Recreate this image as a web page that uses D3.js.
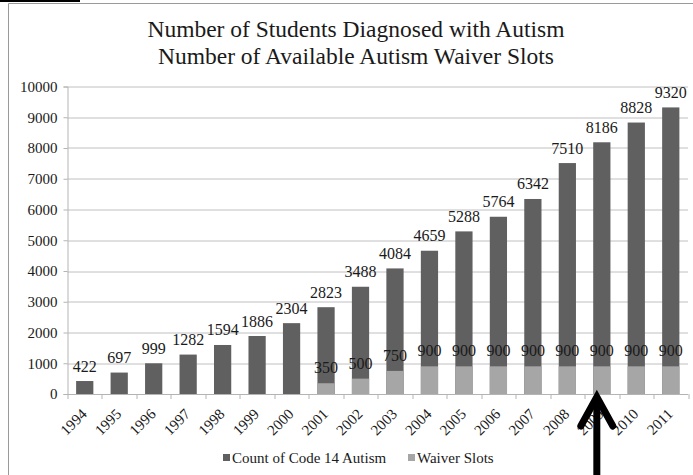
<!DOCTYPE html>
<html>
<head>
<meta charset="utf-8">
<script src="https://cdn.jsdelivr.net/npm/d3@7"></script>
<style>
  body { margin: 0; background: #fff; }
  svg text { font-family: "Liberation Serif", "Times New Roman", serif !important; fill: #1a1a1a; }
</style>
</head>
<body>
<div id="chart"></div>
<script>
// Data
let years = ["1994", "1995", "1996", "1997", "1998", "1999", "2000", "2001", "2002",
  "2003", "2004", "2005", "2006", "2007", "2008", "2009", "2010", "2011"];
let autismCount = [422, 697, 999, 1282, 1594, 1886, 2304, 2823, 3488,
  4084, 4659, 5288, 5764, 6342, 7510, 8186, 8828, 9320];
// null = no waiver slots that year
let waiverSlots = [null, null, null, null, null, null, null, 350, 500,
  750, 900, 900, 900, 900, 900, 900, 900, 900];
let yTicks = [0, 1000, 2000, 3000, 4000, 5000, 6000, 7000, 8000, 9000, 10000];
let titleLines = ["Number of Students Diagnosed with Autism", "Number of Available Autism Waiver Slots"];
let legendNames = ["Count of Code 14 Autism", "Waiver Slots"];

let svgWidth = 693;
let svgHeight = 475;

// plot area in page coordinates
let margin = { top: 86.5, right: 5, bottom: 81, left: 67.5 };
let width = svgWidth - margin.left - margin.right;
let height = svgHeight - margin.top - margin.bottom;

let darkColor = "#606060";
let lightColor = "#a6a6a6";

let svg = d3.select("#chart")
  .append("svg")
  .attr("width", svgWidth)
  .attr("height", svgHeight);

// frame bits of the scanned page
svg.append("rect")
  .attr("x", 0).attr("y", 0)
  .attr("width", 80).attr("height", 2)
  .attr("fill", "#000");
svg.append("path")
  .attr("d", `M8.5,${svgHeight} V3.5 H${svgWidth}`)
  .attr("fill", "none")
  .attr("stroke", "#9a9a9a")
  .attr("stroke-width", 1);

// title
svg.append("g").selectAll("text")
  .data(titleLines)
  .enter()
  .append("text")
  .attr("x", 356)
  .attr("y", (d, i) => 37 + i * 26.5)
  .attr("text-anchor", "middle")
  .attr("font-size", 23.5)
  .text(d => d);

let chartGroup = svg.append("g")
  .attr("transform", `translate(${margin.left}, ${margin.top})`);

let xScale = d3.scaleBand()
  .domain(years)
  .range([0, width])
  .paddingInner(0.5)
  .paddingOuter(0.25);

let yScale = d3.scaleLinear()
  .domain([0, 10000])
  .range([height, 0]);

// gridlines
chartGroup.append("g")
  .selectAll("line")
  .data(yTicks.slice(1))
  .enter()
  .append("line")
  .attr("x1", 0)
  .attr("x2", width)
  .attr("y1", d => Math.round(yScale(d)) + 0.5)
  .attr("y2", d => Math.round(yScale(d)) + 0.5)
  .attr("stroke", "#c0c0c0");

// y axis
let leftAxis = d3.axisLeft(yScale)
  .tickValues(yTicks)
  .tickSize(4)
  .tickPadding(6)
  .tickFormat(d3.format("d"));

let yAxis = chartGroup.append("g")
  .call(leftAxis)
  .attr("font-family", null);
yAxis.select(".domain").attr("stroke", "#b4b4b4");
yAxis.selectAll(".tick line").attr("stroke", "#b4b4b4");
yAxis.selectAll(".tick text")
  .attr("font-size", 15)
  .attr("fill", "#1a1a1a");

// count bars (full height), waiver bars drawn over the bottom part
chartGroup.append("g")
  .selectAll("rect")
  .data(years)
  .enter()
  .append("rect")
  .attr("x", d => xScale(d))
  .attr("width", xScale.bandwidth())
  .attr("y", (d, i) => yScale(autismCount[i]))
  .attr("height", (d, i) => height - yScale(autismCount[i]))
  .attr("fill", darkColor);

let waiverYears = years.filter((d, i) => waiverSlots[i] !== null);

chartGroup.append("g")
  .selectAll("rect")
  .data(waiverYears)
  .enter()
  .append("rect")
  .attr("x", d => xScale(d))
  .attr("width", xScale.bandwidth())
  .attr("y", d => yScale(waiverSlots[years.indexOf(d)]))
  .attr("height", d => height - yScale(waiverSlots[years.indexOf(d)]))
  .attr("fill", lightColor);

// x axis with ticks between the categories
let xAxisG = chartGroup.append("g")
  .attr("transform", `translate(0, ${height})`);
xAxisG.append("line")
  .attr("x1", 0).attr("x2", width)
  .attr("y1", 0.5).attr("y2", 0.5)
  .attr("stroke", "#b4b4b4");
let step = xScale.step();
xAxisG.selectAll("line.tk")
  .data(d3.range(years.length + 1))
  .enter()
  .append("line")
  .attr("class", "tk")
  .attr("x1", i => Math.round(i * step) + 0.5)
  .attr("x2", i => Math.round(i * step) + 0.5)
  .attr("y1", 0)
  .attr("y2", 5)
  .attr("stroke", "#b4b4b4");

xAxisG.selectAll("text")
  .data(years)
  .enter()
  .append("text")
  .attr("transform", d => `translate(${xScale(d) + xScale.bandwidth() / 2 + 3}, 21) rotate(-45)`)
  .attr("text-anchor", "end")
  .attr("font-size", 15)
  .text(d => d);

// data labels
chartGroup.append("g")
  .selectAll("text")
  .data(years)
  .enter()
  .append("text")
  .attr("x", d => xScale(d) + xScale.bandwidth() / 2)
  .attr("y", (d, i) => yScale(autismCount[i]) - 9.5)
  .attr("text-anchor", "middle")
  .attr("font-size", 16)
  .text((d, i) => autismCount[i]);

chartGroup.append("g")
  .selectAll("text")
  .data(waiverYears)
  .enter()
  .append("text")
  .attr("x", d => xScale(d) + xScale.bandwidth() / 2)
  .attr("y", d => yScale(waiverSlots[years.indexOf(d)]) - 10)
  .attr("text-anchor", "middle")
  .attr("font-size", 16)
  .text(d => waiverSlots[years.indexOf(d)]);

// legend
let legendX = [223, 408];
let legendColors = [darkColor, lightColor];
let legend = svg.append("g");
legendNames.forEach((name, i) => {
  legend.append("rect")
    .attr("x", legendX[i])
    .attr("y", 454)
    .attr("width", 7)
    .attr("height", 7)
    .attr("fill", legendColors[i]);
  legend.append("text")
    .attr("x", legendX[i] + 9)
    .attr("y", 463)
    .attr("font-size", 15)
    .text(name);
});

// the black arrow pointing at 2009
let arrowX = margin.left + xScale("2009") + xScale.bandwidth() / 2 - 5;
let arrow = svg.append("g")
  .attr("fill", "none")
  .attr("stroke", "#000")
  .attr("stroke-width", 7);
arrow.append("line")
  .attr("x1", arrowX).attr("x2", arrowX)
  .attr("y1", svgHeight).attr("y2", 400);
arrow.append("path")
  .attr("d", `M${arrowX - 16},426 L${arrowX},397 L${arrowX + 16},426`)
  .attr("stroke-linecap", "round")
  .attr("stroke-linejoin", "miter");
</script>
</body>
</html>
